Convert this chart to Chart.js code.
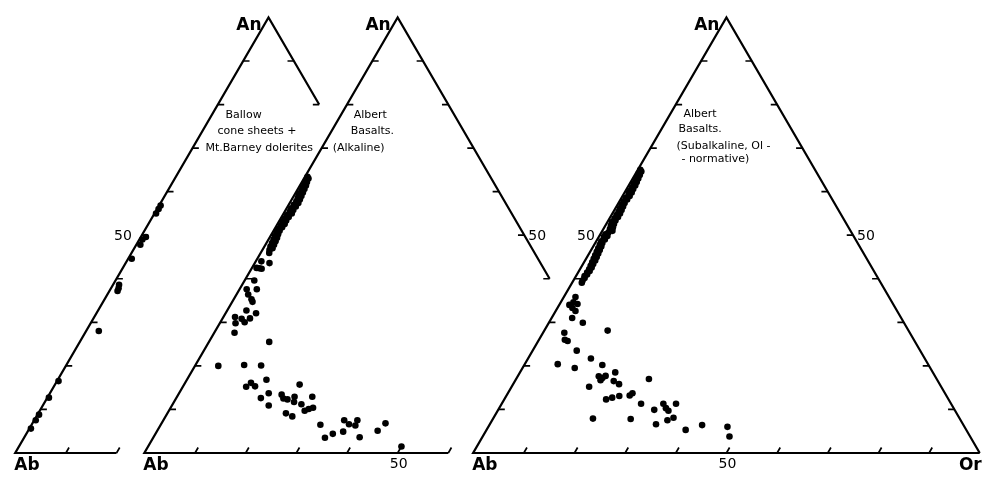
<!DOCTYPE html>
<html>
<head>
<meta charset="utf-8">
<script src="https://cdn.jsdelivr.net/npm/chart.js@4.4.1/dist/chart.umd.min.js"></script>
<style>
  html, body { margin: 0; padding: 0; background: #fff; }
  #wrap { width: 987px; height: 477px; position: relative; }
</style>
</head>
<body>
<div id="wrap"><canvas id="c" width="987" height="477"></canvas></div>
<script>
// Plagioclase / alkali-feldspar compositions, mol % An and Or (Ab is the remainder).

// Ballow cone sheets + Mt. Barney dolerites
const ballowAn = [5.6, 7.5, 8.8, 12.7, 16.5, 28.0, 38.6, 37.8, 37.2, 44.6, 47.8, 49.0, 49.6, 55.0, 56.0, 56.8];
const ballowOr = [0.3, 0.3, 0.3, 0.3, 0.3, 2.5, 1.2, 1.5, 1.6, 0.7, 0.8, 0.6, 1.0, 0.3, 0.3, 0.3];

// Albert Basalts (alkaline)
const alkalineAn = [
  63.4, 63.0, 62.6, 62.2, 61.8, 61.4, 61.0, 60.6, 60.2, 59.8, 59.4, 59.0, 58.6, 58.2, 57.8,
  57.4, 57.0, 56.6, 56.2, 55.8, 55.4, 55.0, 54.6, 54.2, 53.8, 53.4, 53.0, 52.6, 52.2, 51.8,
  51.4, 51.0, 50.6, 50.2, 49.8, 49.4, 49.0, 48.6, 48.2, 47.8, 47.4, 47.0, 46.6,
  45.9, 44.0, 43.6, 42.5, 42.4, 42.3, 39.6, 37.6, 37.6, 36.4, 35.3, 34.7, 32.7, 32.1, 31.2,
  30.8, 30.9, 29.8, 30.0, 27.6, 25.5, 20.0, 20.2, 20.1, 16.8, 15.2, 16.1, 15.3, 13.7, 12.6,
  10.9, 13.4, 12.5, 12.3, 15.7, 12.9, 11.7, 11.2, 12.9, 9.1, 8.4, 9.7, 10.1, 10.4, 6.5,
  3.5, 4.4, 4.9, 7.5, 6.6, 7.5, 6.3, 3.6, 5.1, 6.8, 1.5
];
const alkalineOr = [
  0.5, 0.9, 0.6, 1.0, 0.7, 1.2, 0.8, 1.3, 0.9, 1.4, 0.8, 1.5, 1.0, 1.6, 1.1,
  1.7, 1.0, 1.6, 0.9, 1.5, 1.0, 1.6, 0.9, 1.4, 0.8, 1.3, 0.8, 1.4, 0.9, 1.3,
  0.7, 1.2, 0.8, 1.3, 0.9, 1.5, 1.0, 1.6, 1.1, 1.7, 1.2, 1.8, 1.4,
  1.7, 1.1, 2.9, 0.9, 1.5, 2.0, 1.9, 1.4, 3.4, 2.3, 3.5, 4.0, 3.8, 6.0, 2.3,
  3.8, 5.4, 3.1, 4.8, 4.0, 11.9, 4.6, 9.6, 13.0, 15.7, 12.5, 13.0, 14.2, 17.7, 16.7,
  19.1, 20.4, 21.2, 22.1, 22.8, 23.2, 23.7, 25.4, 26.7, 23.4, 25.0, 26.8, 27.4, 28.1, 31.5,
  33.9, 35.0, 36.8, 35.7, 37.1, 38.3, 38.5, 40.7, 43.5, 44.2, 50.0
];

// Albert Basalts (subalkaline, Ol-normative)
const subalkalineAn = [
  65.0, 64.6, 64.2, 63.8, 63.4, 63.0, 62.6, 62.2, 61.8, 61.4, 61.0, 60.6, 60.2, 59.8, 59.4,
  59.0, 58.6, 58.2, 57.8, 57.4, 57.0, 56.6, 56.2, 55.8, 55.4, 55.0, 54.6, 54.2, 53.8, 53.4,
  53.0, 52.6, 52.2, 51.8, 51.4, 51.0, 50.6, 50.2, 49.8, 49.4, 49.0, 48.6, 48.2, 47.8, 47.4,
  47.0, 46.6, 46.2, 45.8, 45.4, 45.0, 44.6, 44.2, 43.8, 43.4, 43.0, 42.6, 42.2, 41.8, 41.4,
  41.0, 40.6, 40.2, 39.6, 39.1,
  35.8, 34.6, 34.2, 33.3, 32.6, 31.0, 34.0, 29.9, 28.1, 27.6, 26.0, 25.7, 23.5, 20.4, 19.5,
  21.7, 20.2, 18.5, 17.6, 17.2, 17.7, 16.7, 16.5, 15.8, 15.2, 17.0, 12.3, 12.7, 13.1, 13.2,
  13.7, 11.3, 9.9, 11.3, 10.3, 9.7, 11.3, 7.5, 8.1, 7.9, 7.8, 6.6, 5.3, 6.4, 6.0, 3.8
];
const subalkalineOr = [
  0.5, 0.9, 0.6, 1.0, 0.7, 1.1, 0.8, 1.2, 0.8, 1.3, 0.9, 1.3, 0.9, 1.4, 1.0,
  1.4, 0.9, 1.3, 0.8, 1.2, 0.8, 1.3, 0.9, 1.4, 1.0, 1.5, 1.0, 1.5, 1.0, 1.4,
  0.9, 1.5, 1.1, 1.7, 1.3, 2.0, 1.4, 1.0, 1.6, 1.1, 1.5, 1.0, 1.4, 1.1, 1.6,
  1.2, 1.7, 1.3, 1.8, 1.4, 1.9, 1.5, 2.0, 1.6, 2.0, 1.7, 2.1, 1.8, 2.1, 1.8,
  2.0, 1.7, 1.9, 1.8, 1.9,
  2.3, 2.5, 3.5, 2.95, 3.9, 4.05, 2.0, 6.7, 12.5, 4.2, 5.1, 5.8, 8.7, 6.5, 10.3,
  12.4, 15.4, 18.8, 16.0, 16.9, 17.3, 16.8, 19.5, 20.9, 15.3, 26.2, 20.1, 21.1, 22.3, 24.3,
  24.6, 27.5, 30.8, 31.9, 32.9, 33.7, 34.4, 34.6, 35.5, 19.7, 27.2, 32.8, 39.3, 42.0, 47.2, 48.7
];

// Axis graduations (mol %) and the one that is labelled
const gradSteps = [10, 20, 30, 40, 50, 60, 70, 80, 90];
const gradLabel = 50;

// Corner names
const cornerAn = 'An', cornerAb = 'Ab', cornerOr = 'Or';

// Panel captions
const ballowNotes = ['Ballow', 'cone sheets +', 'Mt.Barney dolerites'];
const alkalineNotes = ['Albert', 'Basalts.', '(Alkaline)'];
const subalkalineNotes = ['Albert', 'Basalts.', '(Subalkaline, Ol -', '- normative)'];

// ---- layout -------------------------------------------------------------
// Units: one triangle side = 100. Each panel's Ab corner sits at x0.
// The two left panels are overlapped, so their An–Or side and Ab–Or side are cut short.
const S = Math.sqrt(3) / 2;
const PX = 5.1; // pixels per unit
const panels = [
  { an: ballowAn, or: ballowOr, x0: 0, rightEndAn: 80, baseEndOr: 20, notes: ballowNotes,
    noteOffsets: [[-43, 98], [-51, 113.5], [-63, 130.5]],
    leftLabelGap: 10, rightLabel: false, baseLabel: false, showOr: false },
  { an: alkalineAn, or: alkalineOr, x0: 130 / PX, rightEndAn: 40, baseEndOr: 60, notes: alkalineNotes,
    noteOffsets: [[-44, 98], [-47, 114], [-65, 131]],
    leftLabelGap: null, rightLabel: true, baseLabel: true, showOr: false },
  { an: subalkalineAn, or: subalkalineOr, x0: 461 / PX, rightEndAn: 0, baseEndOr: 100, notes: subalkalineNotes,
    noteOffsets: [[-43, 97], [-48, 112], [-50, 129], [-45, 142]],
    leftLabelGap: 5, rightLabel: true, baseLabel: true, showOr: true }
];

const toXY = (x0, an, or) => ({ x: x0 + or + an / 2, y: an * S });
const TICK = 1.25; // graduation length in units

const datasets = [];
panels.forEach(p => {
  // frame: Or-end of base -> Ab -> An -> lower end of the An–Or side
  datasets.push({
    type: 'scatter', showLine: true, pointRadius: 0, borderColor: '#000', borderWidth: 2.2,
    borderJoinStyle: 'miter', clip: false, order: 2,
    data: [toXY(p.x0, 0, p.baseEndOr), toXY(p.x0, 0, 0), toXY(p.x0, 100, 0),
           toXY(p.x0, p.rightEndAn, 100 - p.rightEndAn)]
  });
  // graduations
  const ticks = [];
  const gap = { x: 0, y: null };
  gradSteps.forEach(t => {
    ticks.push(toXY(p.x0, t, 0), toXY(p.x0, t, TICK), { ...gap });
    if (t >= p.rightEndAn) ticks.push(toXY(p.x0, t, 100 - t), toXY(p.x0, t, 100 - t - TICK), { ...gap });
    if (t <= p.baseEndOr) ticks.push(toXY(p.x0, 0, t), toXY(p.x0, TICK, t), { ...gap });
  });
  datasets.push({
    type: 'scatter', showLine: true, spanGaps: false, pointRadius: 0, borderColor: '#000',
    borderWidth: 1.7, clip: false, order: 2, data: ticks
  });
  // analyses
  datasets.push({
    type: 'scatter', pointRadius: 3.3, pointHoverRadius: 3.3, pointBackgroundColor: '#000',
    pointBorderWidth: 0, clip: false, order: 1,
    data: p.an.map((a, i) => toXY(p.x0, a, p.or[i]))
  });
});

// Text: corner names, the 50 % graduation labels and the panel captions
const textPlugin = {
  id: 'ternaryText',
  afterDatasetsDraw(chart) {
    const { ctx, scales: { x, y } } = chart;
    const px = pt => [x.getPixelForValue(pt.x), y.getPixelForValue(pt.y)];
    ctx.save();
    ctx.fillStyle = '#000';
    panels.forEach(p => {
      const [ax, ay] = px(toXY(p.x0, 100, 0));
      const [bx, by] = px(toXY(p.x0, 0, 0));
      ctx.font = 'bold 17px "DejaVu Sans"';
      ctx.textBaseline = 'middle';
      ctx.textAlign = 'right';
      ctx.fillText(cornerAn, ax - 7, ay + 8);
      ctx.textAlign = 'left';
      ctx.fillText(cornerAb, bx - 1, by + 13);
      if (p.showOr) {
        const [ox, oy] = px(toXY(p.x0, 0, 100));
        ctx.textAlign = 'right';
        ctx.fillText(cornerOr, ox + 2, oy + 13);
      }
      ctx.font = '14px "DejaVu Sans"';
      if (p.leftLabelGap !== null) {
        const [lx, ly] = px(toXY(p.x0, gradLabel, 0));
        ctx.textAlign = 'right';
        ctx.fillText(String(gradLabel), lx - p.leftLabelGap, ly + 1.5);
      }
      if (p.rightLabel) {
        const [rx, ry] = px(toXY(p.x0, gradLabel, 100 - gradLabel));
        ctx.textAlign = 'left';
        ctx.fillText(String(gradLabel), rx + 4, ry + 1);
      }
      if (p.baseLabel) {
        const [gx, gy] = px(toXY(p.x0, 0, gradLabel));
        ctx.textAlign = 'center';
        ctx.fillText(String(gradLabel), gx + 1, gy + 11);
      }
      ctx.font = '11px "DejaVu Sans"';
      ctx.textAlign = 'left';
      p.notes.forEach((line, i) => {
        const [dx, dy] = p.noteOffsets[i];
        ctx.fillText(line, ax + dx, ay + dy);
      });
    });
    ctx.restore();
  }
};

new Chart(document.getElementById('c'), {
  type: 'scatter',
  data: { datasets },
  options: {
    responsive: false,
    animation: false,
    devicePixelRatio: 1,
    layout: { padding: 0 },
    plugins: { legend: { display: false }, tooltip: { enabled: false } },
    scales: {
      x: { type: 'linear', display: false, min: -12 / PX, max: 975 / PX },
      y: { type: 'linear', display: false, min: -21 / PX, max: 456 / PX }
    }
  },
  plugins: [textPlugin]
});
</script>
</body>
</html>
